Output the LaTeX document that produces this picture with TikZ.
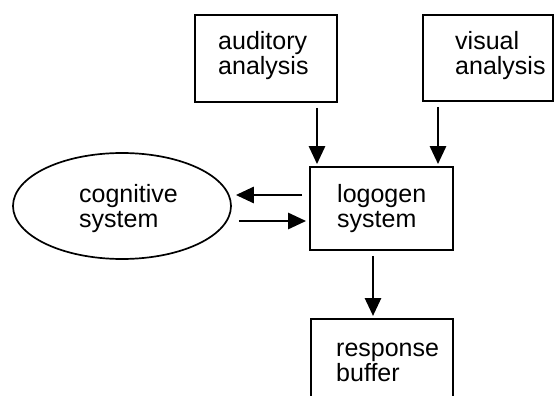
\documentclass[tikz,border=0pt]{standalone}
\usepackage{fontspec}
\setmainfont{Liberation Sans}
\usetikzlibrary{arrows.meta, shapes.geometric}

\tikzset{
  box/.style={draw, line width=1.8pt, inner sep=0pt},
  oval/.style={ellipse, draw, line width=1.7pt, inner sep=0pt},
  lbl/.style={anchor=west, inner sep=0pt, align=left, font=\fontsize{25}{25}\selectfont},
  arr/.style={line width=2.8pt, -{Triangle[length=18pt,width=16pt]}},
}

\begin{document}
\begin{tikzpicture}[x=1pt,y=-1pt]
\useasboundingbox (0,0) rectangle (558,396);
\clip (0,0) rectangle (558,396);

% boxes
\node[box, minimum width=142, minimum height=87] (aud) at (266,58.5) {};
\node[box, minimum width=130, minimum height=86] (vis) at (488,58) {};
\node[box, minimum width=143, minimum height=83] (logo) at (381.5,208.5) {};
\node[box, minimum width=142, minimum height=90, anchor=north] (resp) at (382,318) {};
\node[oval, minimum width=218, minimum height=106] (cog) at (122,206) {};

% texts
\node[lbl] (audtxt) at (218,56) {auditory\\analysis};
\node[lbl] (vistxt) at (455,56) {visual\\analysis};
\node[lbl] (cogtxt) at (79,209) {cognitive\\system};
\node[lbl] (logtxt) at (337,208.5) {logogen\\system};
\node[lbl] (restxt) at (336,362.5) {response\\buffer};

\coordinate (ax) at (317,0);
\coordinate (vx) at (438,0);
\coordinate (rx) at (373,0);
\coordinate (up) at (0,195);
\coordinate (dn) at (0,221);

\draw[arr, shorten <=5pt, shorten >=2pt] (aud.south -| ax) -- (logo.north -| ax);
\draw[arr, shorten <=5pt, shorten >=2pt] (vis.south -| vx) -- (logo.north -| vx);
\draw[arr, shorten <=7pt, shorten >=4pt] (logo.west |- up) -- (cog.east |- up);
\draw[arr, shorten <=7pt, shorten >=3pt] (cog.east |- dn) -- (logo.west |- dn);
\draw[arr, shorten <=5pt, shorten >=2pt] (logo.south -| rx) -- (resp.north -| rx);
\end{tikzpicture}
\end{document}
